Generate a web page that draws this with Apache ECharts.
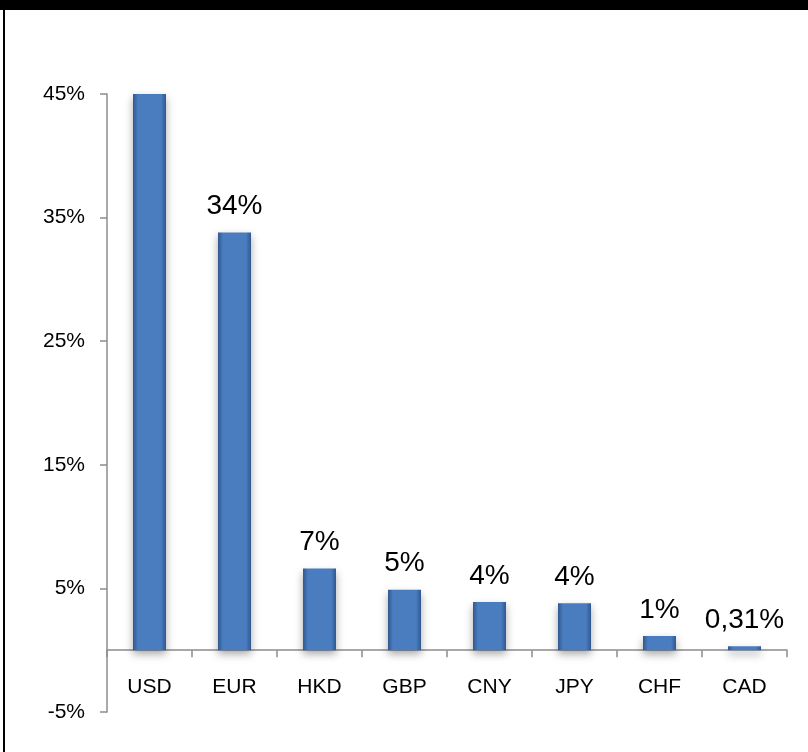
<!DOCTYPE html>
<html>
<head>
<meta charset="utf-8">
<script src="https://cdn.jsdelivr.net/npm/echarts@6/dist/echarts.min.js"></script>
<style>
  html, body { margin: 0; padding: 0; background: #fff; }
  #chart { width: 808px; height: 752px; }
</style>
</head>
<body>
<div id="chart"></div>
<script>
const currencies = ['USD', 'EUR', 'HKD', 'GBP', 'CNY', 'JPY', 'CHF', 'CAD']
const shares = [45, 33.8, 6.6, 4.9, 3.9, 3.8, 1.15, 0.31]
// USD label sits above the plot and is not shown
const shareLabels = ['', '34%', '7%', '5%', '4%', '4%', '1%', '0,31%']
const yTicks = [-5, 5, 15, 25, 35, 45]

const chart = echarts.init(document.getElementById('chart'))

const font = '"Liberation Sans", Arial, sans-serif'

chart.setOption({
  backgroundColor: '#fff',
  animation: false,
  // frame: black band on top, thin line on the left
  graphic: [
    { type: 'rect', left: 0, top: 0, shape: { width: 808, height: 10 }, style: { fill: '#000' } },
    { type: 'rect', left: 3, top: 0, shape: { width: 2, height: 752 }, style: { fill: '#000' } }
  ],
  grid: { left: 107, right: 21, top: 94, bottom: 40 },
  xAxis: {
    type: 'category',
    data: currencies,
    axisLine: { onZero: true, lineStyle: { color: '#8c8c8c', width: 1.5 } },
    axisTick: { show: true, length: 7, lineStyle: { color: '#8c8c8c', width: 1.5 } },
    // labels stay at the grid bottom, so pull them up under the zero line
    axisLabel: { color: '#000', fontSize: 21, fontFamily: font, margin: -35 }
  },
  yAxis: {
    type: 'value',
    min: yTicks[0],
    max: yTicks[yTicks.length - 1],
    interval: 10,
    splitLine: { show: false },
    axisLine: { show: true, lineStyle: { color: '#8c8c8c', width: 1.5 } },
    axisTick: { show: true, length: 7, lineStyle: { color: '#8c8c8c', width: 1.5 } },
    axisLabel: {
      color: '#000',
      fontSize: 21,
      fontFamily: font,
      margin: 22,
      formatter: (v) => v + '%'
    }
  },
  series: [
    {
      type: 'bar',
      data: shares,
      barWidth: 33,
      itemStyle: {
        color: new echarts.graphic.LinearGradient(0, 0, 1, 0, [
          { offset: 0, color: '#30588f' },
          { offset: 0.15, color: '#4a7cc0' },
          { offset: 0.85, color: '#4a7cc0' },
          { offset: 1, color: '#30588f' }
        ]),
        shadowColor: 'rgba(0,0,0,0.35)',
        shadowBlur: 8,
        shadowOffsetY: 4
      },
      label: {
        show: true,
        position: 'top',
        distance: 12,
        color: '#000',
        fontSize: 28,
        fontFamily: font,
        formatter: (p) => shareLabels[p.dataIndex]
      }
    }
  ]
})
</script>
</body>
</html>
